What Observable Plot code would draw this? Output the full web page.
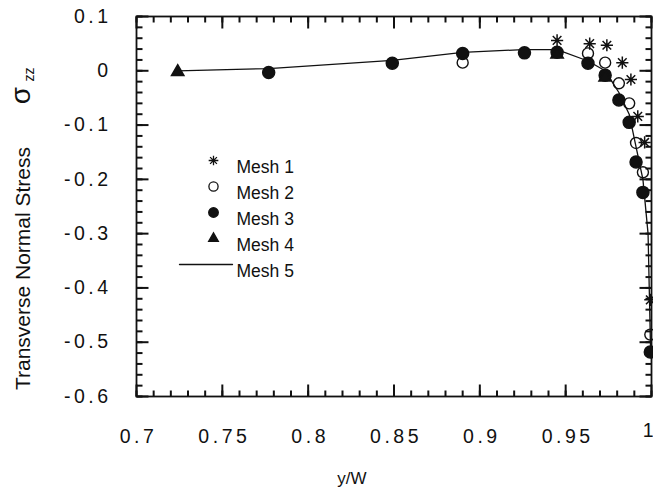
<!DOCTYPE html>
<html><head><meta charset="utf-8">
<script src="https://cdn.jsdelivr.net/npm/d3@7"></script>
<script src="https://cdn.jsdelivr.net/npm/@observablehq/plot@0.6"></script>
<style>
html,body{margin:0;padding:0;background:#fff;}
#chart svg{display:block;}
#chart g[aria-label="x-axis tick label"] text{letter-spacing:3.5px;}
#chart g[aria-label="y-axis tick label"] text{letter-spacing:3.5px;}
</style>
</head><body><div id="chart"></div>
<script>
// ---- data ----
const mesh1X = [0.945, 0.964, 0.974, 0.983, 0.988, 0.992, 0.996, 0.9993];
const mesh1Y = [0.056, 0.050, 0.047, 0.015, -0.016, -0.084, -0.132, -0.422];
const mesh2X = [0.890, 0.963, 0.973, 0.981, 0.987, 0.991, 0.995, 0.9993];
const mesh2Y = [0.015, 0.032, 0.015, -0.023, -0.060, -0.133, -0.187, -0.486];
const mesh3X = [0.777, 0.849, 0.890, 0.926, 0.945, 0.963, 0.973, 0.981, 0.987, 0.991, 0.995, 0.9993];
const mesh3Y = [-0.003, 0.014, 0.032, 0.033, 0.034, 0.014, -0.008, -0.054, -0.095, -0.168, -0.224, -0.518];
const mesh4X = [0.724, 0.945, 0.973];
const mesh4Y = [-0.002, 0.030, -0.012];
const mesh5X = [0.724, 0.777, 0.849, 0.890, 0.925, 0.945, 0.963, 0.973, 0.981, 0.987, 0.991, 0.995, 0.998, 0.9995];
const mesh5Y = [0.000, 0.004, 0.019, 0.034, 0.039, 0.039, 0.018, 0.000, -0.040, -0.080, -0.140, -0.200, -0.300, -0.520];

const legendLabels = ["Mesh 1", "Mesh 2", "Mesh 3", "Mesh 4", "Mesh 5"];
const xTickValues = [0.7, 0.75, 0.8, 0.85, 0.9, 0.95, 1.0];
const xTickLabels = ["0.7", "0.75", "0.8", "0.85", "0.9", "0.95", "1"];
const yTickValues = [0.1, 0, -0.1, -0.2, -0.3, -0.4, -0.5, -0.6];
const yTickLabels = ["0.1", "0", "-0.1", "-0.2", "-0.3", "-0.4", "-0.5", "-0.6"];
const xMinorTicks = d3.range(70, 101, 1).map(v => v / 100);
const yMinorTicks = d3.range(-60, 11, 2).map(v => v / 100);
const xTitle = "y/W";
const yTitle = "Transverse Normal Stress";
const yTitleSymbol = "σ";
const yTitleSub = "zz";

// ---- layout ----
const W = 653, H = 493, mL = 136, mR = 2, mT = 16, mB = 97;
const fw = W - mL - mR, fh = H - mT - mB;
const xDom = [0.7, 1.0], yDom = [-0.6, 0.1];
const ink = "#111111";
const font = "'Liberation Sans', Arial, Helvetica, sans-serif";
const pts = (xs, ys) => xs.map((x, i) => ({x, y: ys[i]}));
const fmtX = v => xTickLabels[xTickValues.findIndex(t => Math.abs(t - v) < 1e-9)];
const fmtY = v => yTickLabels[yTickValues.findIndex(t => Math.abs(t - v) < 1e-9)];

// 8-armed asterisk symbol
const star8 = {
  draw(context, size) {
    const r = Math.sqrt(size / Math.PI) * 1.05, d = r * Math.SQRT1_2;
    context.moveTo(0, -r); context.lineTo(0, r);
    context.moveTo(-r, 0); context.lineTo(r, 0);
    context.moveTo(-d, -d); context.lineTo(d, d);
    context.moveTo(-d, d); context.lineTo(d, -d);
  }
};

// inward ticks on all four sides (tick lengths converted from pixels to scale units)
const pxY = px => px * (yDom[1] - yDom[0]) / fh;
const pxX = px => px * (xDom[1] - xDom[0]) / fw;
const tickMarks = [];
for (const [vals, len] of [[xMinorTicks, 6], [xTickValues, 12]]) {
  tickMarks.push(Plot.link(vals, {x1: d => d, x2: d => d, y1: yDom[0], y2: yDom[0] + pxY(len), stroke: ink, strokeWidth: 2}));
  tickMarks.push(Plot.link(vals, {x1: d => d, x2: d => d, y1: yDom[1], y2: yDom[1] - pxY(len), stroke: ink, strokeWidth: 2}));
}
for (const [vals, len] of [[yMinorTicks, 6], [yTickValues, 12]]) {
  tickMarks.push(Plot.link(vals, {y1: d => d, y2: d => d, x1: xDom[0], x2: xDom[0] + pxX(len), stroke: ink, strokeWidth: 2}));
  tickMarks.push(Plot.link(vals, {y1: d => d, y2: d => d, x1: xDom[1], x2: xDom[1] - pxX(len), stroke: ink, strokeWidth: 2}));
}

// legend rows (offsets within the frame)
const lineShape = {draw(context, l) { context.moveTo(0, 0); context.lineTo(0, -l); }};
const legendSymbols = [
  {symbol: star8, fill: "none", stroke: ink, r: 4.6},
  {symbol: "circle", fill: "white", stroke: ink, r: 4.6},
  {symbol: "circle", fill: ink, stroke: ink, r: 4.8},
  {symbol: "triangle", fill: ink, stroke: ink, r: 3.6}
];
const legendMarks = [];
legendLabels.forEach((lab, i) => {
  const dy = 144 + 26 * i;
  if (i < 4) {
    legendMarks.push(Plot.dot([lab], {frameAnchor: "top-left", dx: 77, dy, strokeWidth: 1.3, ...legendSymbols[i]}));
  } else {
    legendMarks.push(Plot.vector([lab], {frameAnchor: "top-left", dx: 43, dy, length: 53, rotate: 90, anchor: "start", shape: lineShape, stroke: ink, strokeWidth: 1.3}));
  }
  legendMarks.push(Plot.text([lab], {frameAnchor: "top-left", dx: 100, dy, text: d => d, textAnchor: "start", fontSize: 17.5, fill: ink}));
});

const plot = Plot.plot({
  width: W, height: H,
  marginLeft: mL, marginRight: mR, marginTop: mT, marginBottom: mB,
  x: {domain: xDom},
  y: {domain: yDom},
  style: {fontFamily: font, color: ink, background: "#fff"},
  marks: [
    Plot.axisX(xTickValues.slice(0, -1), {anchor: "bottom", tickSize: 0, tickPadding: 33, tickFormat: fmtX, fontSize: 19.5, fill: ink, label: null, dx: 2}),
    Plot.text(xTickValues.slice(-1), {x: d => d, frameAnchor: "bottom", dy: 40, textAnchor: "end", dx: 2, text: fmtX, fontSize: 19.5, fill: ink}),
    Plot.axisY(yTickValues, {anchor: "left", tickSize: 0, tickPadding: 25, tickFormat: fmtY, fontSize: 19.5, fill: ink, label: null}),
    Plot.text([xTitle], {frameAnchor: "bottom", dx: -42, dy: 87, text: d => d, fontSize: 17, fill: ink}),
    Plot.text([yTitle], {frameAnchor: "left", dx: -107, dy: 62, rotate: -90, lineAnchor: "bottom", textAnchor: "middle", text: d => d, fontSize: 21, fill: ink}),
    Plot.text([yTitleSymbol], {frameAnchor: "left", dx: -107, dy: -111, rotate: -90, lineAnchor: "bottom", textAnchor: "middle", text: d => d, fontSize: 28, fill: ink}),
    Plot.text([yTitleSub], {frameAnchor: "left", dx: -103, dy: -132, rotate: -90, lineAnchor: "bottom", textAnchor: "middle", text: d => d, fontSize: 14, fill: ink}),
    Plot.line(pts(mesh5X, mesh5Y), {x: "x", y: "y", stroke: ink, strokeWidth: 1.3}),
    Plot.dot(pts(mesh3X, mesh3Y), {x: "x", y: "y", symbol: "circle", r: 6, fill: ink, stroke: ink}),
    Plot.dot(pts(mesh4X, mesh4Y), {x: "x", y: "y", symbol: "triangle", r: 4.6, fill: ink, stroke: ink}),
    Plot.dot(pts(mesh2X, mesh2Y), {x: "x", y: "y", symbol: "circle", r: 5.5, fill: "none", stroke: ink, strokeWidth: 1.4}),
    Plot.dot(pts(mesh1X, mesh1Y), {x: "x", y: "y", symbol: star8, r: 5.8, fill: "none", stroke: ink, strokeWidth: 1.5}),
    ...legendMarks,
    ...tickMarks,
    Plot.frame({stroke: ink, fill: "none", strokeWidth: 1.8})
  ]
});
document.getElementById("chart").appendChild(plot);
</script>
</body></html>
